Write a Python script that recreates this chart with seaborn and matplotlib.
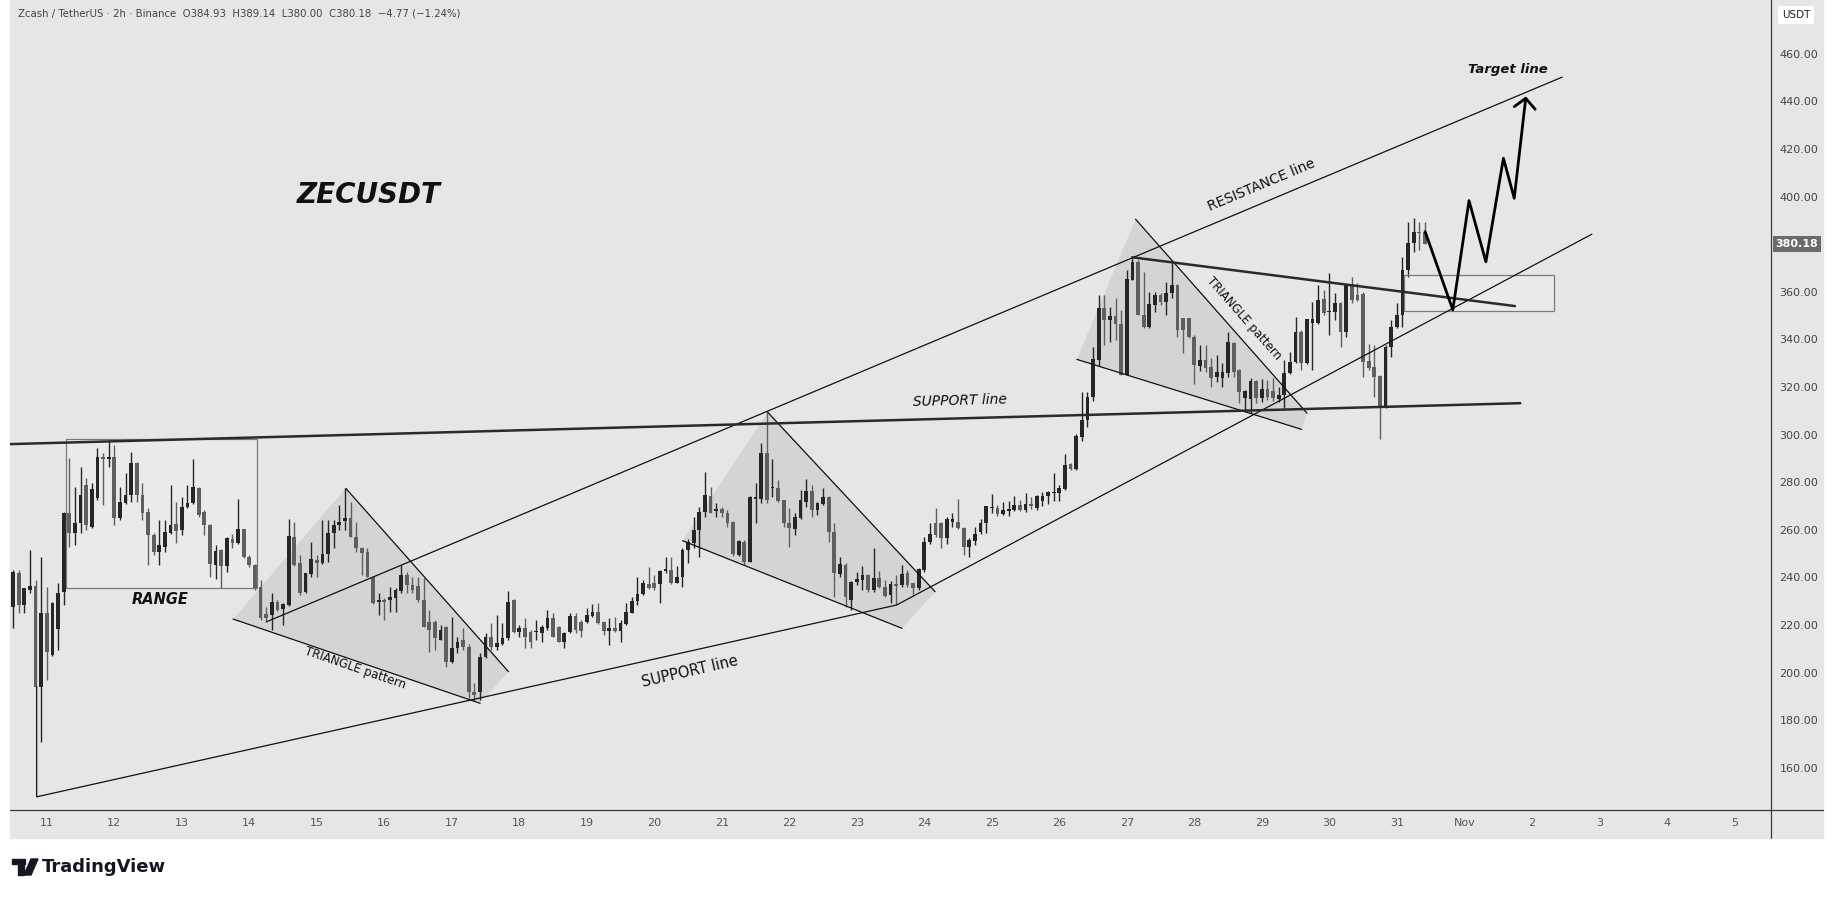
import numpy as np
import pandas as pd
import matplotlib
matplotlib.use("Agg")
import matplotlib.pyplot as plt
import matplotlib.dates as mdates
from matplotlib.patches import Polygon, Rectangle
from matplotlib.lines import Line2D
import seaborn as sns

sns.set_style("white")
plt.rcParams["font.family"] = "DejaVu Sans"

# ---- ZECUSDT 2h candles ----
OPEN = [227.7, 241.7, 228.4, 234.7, 236.4, 194.1, 225.2, 207.4, 218.2, 234.0,
        266.9, 258.5, 263.0, 278.8, 261.3, 273.2, 290.7, 289.6, 290.4, 264.8,
        271.4, 274.6, 287.9, 274.6, 267.6, 257.8, 250.8, 252.9, 258.8, 262.4,
        259.9, 269.4, 271.1, 277.4, 267.6, 262.0, 245.2, 251.5, 244.9, 256.0,
        254.3, 260.2, 248.7, 245.2, 236.1, 224.6, 224.2, 229.8, 226.6, 228.4,
        257.1, 245.9, 234.0, 241.3, 247.3, 245.9, 249.8, 258.5, 262.0, 263.8,
        264.8, 257.1, 252.2, 250.8, 240.3, 229.8, 230.5, 230.5, 231.2, 234.4,
        241.0, 236.8, 236.5, 230.5, 221.4, 221.4, 213.7, 219.3, 204.6, 210.2,
        213.7, 210.9, 192.0, 192.0, 206.7, 215.1, 210.9, 212.0, 214.4, 230.5,
        217.2, 218.6, 217.2, 216.9, 216.8, 218.6, 222.8, 219.3, 213.0, 216.9,
        223.8, 221.4, 221.1, 223.8, 225.3, 221.4, 217.6, 218.6, 217.6, 220.4,
        225.2, 230.1, 233.0, 237.1, 237.5, 237.2, 242.8, 243.1, 237.8, 240.0,
        251.5, 254.3, 259.9, 267.6, 274.2, 268.0, 268.6, 267.2, 263.4, 249.4,
        255.0, 246.6, 272.8, 272.8, 292.1, 277.4, 277.4, 272.5, 262.7, 260.2,
        264.8, 271.8, 276.4, 268.3, 270.8, 273.6, 259.2, 241.4, 245.2, 230.5,
        238.2, 238.9, 241.0, 234.7, 239.6, 236.1, 232.6, 237.2, 236.8, 241.7,
        237.5, 235.4, 243.1, 255.0, 262.7, 262.7, 256.4, 263.4, 263.4, 260.6,
        252.9, 255.4, 258.9, 263.0, 269.1, 269.1, 266.6, 268.1, 268.4, 270.5,
        268.4, 270.8, 269.1, 271.9, 274.0, 275.4, 275.4, 277.1, 287.7, 285.4,
        298.9, 306.2, 315.7, 331.4, 353.1, 348.2, 349.8, 346.5, 325.1, 365.0,
        372.7, 350.3, 345.1, 354.5, 358.7, 355.9, 359.4, 362.9, 348.9, 348.9,
        341.2, 328.9, 331.4, 328.6, 324.4, 323.7, 325.8, 338.4, 327.2, 315.3,
        314.8, 322.6, 315.3, 319.1, 318.5, 314.8, 316.7, 325.8, 330.3, 343.3,
        330.0, 346.8, 346.8, 356.9, 351.4, 351.7, 355.5, 343.3, 362.5, 358.7,
        359.1, 331.1, 328.6, 324.7, 311.5, 337.0, 345.4, 350.3, 369.2, 380.7,
        385.3, 384.93]
HIGH = [243.1, 243.1, 235.4, 251.5, 238.9, 248.7, 236.1, 229.8, 237.8, 267.3,
        290.0, 278.1, 286.5, 281.6, 279.5, 294.2, 292.1, 297.7, 295.6, 278.1,
        283.7, 292.8, 288.3, 279.5, 269.0, 258.5, 264.1, 264.1, 278.8, 271.8,
        273.9, 278.8, 289.6, 278.1, 268.3, 262.5, 253.6, 251.8, 256.8, 258.2,
        272.8, 260.5, 249.4, 245.5, 238.9, 227.7, 233.3, 230.5, 229.4, 264.4,
        263.4, 249.4, 242.0, 255.0, 249.4, 264.1, 264.1, 264.1, 270.4, 277.4,
        271.8, 263.4, 252.9, 252.2, 240.6, 233.3, 231.2, 236.1, 235.4, 245.2,
        242.4, 240.3, 240.3, 239.6, 226.3, 222.1, 220.0, 219.5, 223.5, 215.1,
        218.6, 212.0, 195.5, 208.1, 216.5, 220.7, 224.2, 220.7, 234.4, 230.8,
        220.0, 222.8, 217.9, 222.1, 220.0, 226.3, 225.2, 219.5, 217.2, 225.0,
        225.0, 222.1, 227.0, 228.8, 229.4, 221.6, 222.8, 223.5, 222.1, 229.1,
        231.9, 240.3, 238.9, 244.5, 241.0, 243.0, 248.7, 248.7, 244.8, 252.2,
        256.0, 265.5, 269.7, 284.4, 278.1, 271.1, 269.7, 268.3, 263.6, 255.7,
        255.7, 274.0, 279.5, 296.3, 309.4, 289.6, 280.9, 272.7, 269.0, 266.9,
        276.7, 281.2, 278.8, 271.8, 277.4, 274.2, 262.7, 248.4, 245.9, 238.4,
        242.4, 244.8, 241.4, 252.2, 242.8, 238.9, 238.6, 241.0, 245.2, 243.1,
        237.7, 243.8, 257.1, 262.7, 269.0, 263.4, 265.5, 266.9, 272.8, 261.3,
        256.4, 261.0, 264.4, 270.0, 275.1, 270.5, 271.5, 271.9, 274.4, 272.6,
        275.4, 273.6, 274.7, 275.7, 276.1, 284.0, 278.9, 291.7, 288.0, 300.3,
        318.1, 318.1, 337.0, 358.7, 358.7, 353.8, 357.3, 352.4, 369.2, 374.5,
        373.4, 368.5, 360.1, 360.1, 359.4, 364.3, 373.4, 363.1, 349.1, 349.1,
        341.9, 337.7, 337.7, 332.1, 333.5, 330.0, 343.3, 339.1, 327.4, 318.7,
        323.7, 322.8, 323.3, 323.0, 323.7, 320.2, 331.4, 334.9, 349.6, 344.0,
        348.7, 355.9, 362.9, 360.8, 368.1, 359.6, 355.7, 363.1, 366.4, 363.6,
        360.1, 338.1, 337.7, 324.9, 337.7, 348.2, 355.2, 374.8, 389.5, 390.9,
        389.5, 389.14]
LOW = [218.6, 224.9, 224.9, 233.3, 193.8, 171.0, 196.9, 206.9, 209.5, 228.4,
       252.9, 253.6, 258.5, 259.9, 260.6, 272.5, 270.4, 286.5, 262.0, 264.3,
       271.0, 271.8, 271.8, 264.1, 245.2, 249.5, 245.2, 250.8, 258.3, 254.3,
       257.8, 269.0, 270.8, 265.5, 257.8, 240.3, 239.2, 235.4, 242.4, 252.2,
       254.0, 248.3, 244.5, 234.7, 222.1, 221.4, 217.9, 226.0, 220.0, 228.0,
       244.8, 232.6, 233.5, 240.3, 240.3, 245.5, 246.6, 252.2, 259.9, 259.9,
       256.8, 250.8, 241.0, 240.0, 228.8, 224.2, 222.1, 225.6, 225.6, 233.3,
       233.3, 233.3, 229.8, 219.0, 208.8, 209.5, 213.5, 202.5, 204.0, 208.1,
       209.5, 189.2, 188.0, 188.5, 206.0, 209.5, 209.5, 211.8, 213.7, 216.5,
       215.1, 210.2, 210.2, 213.7, 213.0, 217.9, 215.0, 212.8, 210.2, 216.7,
       216.5, 215.1, 221.0, 223.5, 220.4, 215.8, 211.6, 217.2, 213.0, 220.0,
       224.9, 228.4, 232.6, 235.3, 234.7, 229.4, 242.0, 237.2, 237.5, 236.1,
       246.2, 252.2, 248.7, 265.5, 266.9, 265.2, 265.2, 261.3, 249.0, 249.0,
       245.2, 246.3, 263.0, 271.1, 271.1, 273.6, 271.8, 261.3, 252.9, 257.8,
       264.4, 269.7, 265.5, 266.2, 270.4, 255.0, 231.9, 240.3, 227.7, 226.3,
       236.8, 234.7, 234.0, 234.0, 235.4, 231.9, 229.4, 228.4, 236.1, 236.1,
       232.6, 234.7, 242.4, 254.0, 257.1, 252.2, 254.0, 261.0, 260.4, 249.4,
       248.7, 253.6, 258.3, 258.6, 267.2, 265.9, 266.3, 265.9, 267.7, 267.7,
       267.3, 268.6, 268.4, 269.8, 270.9, 271.9, 271.9, 276.8, 285.3, 285.2,
       297.5, 303.1, 314.3, 328.9, 337.7, 339.1, 339.8, 325.0, 324.9, 364.8,
       350.1, 344.7, 344.9, 351.7, 354.5, 350.3, 357.3, 341.2, 334.2, 340.5,
       321.3, 326.9, 326.5, 320.2, 322.3, 320.2, 324.4, 324.4, 313.2, 309.7,
       309.0, 313.2, 313.9, 314.6, 314.3, 313.9, 311.1, 325.6, 330.1, 327.2,
       329.7, 327.2, 346.6, 350.3, 341.9, 348.2, 337.0, 341.2, 355.5, 356.3,
       324.4, 327.2, 316.0, 298.1, 311.3, 332.8, 344.7, 345.4, 366.4, 376.9,
       377.6, 380.00]
CLOSE = [242.4, 228.4, 235.4, 236.4, 194.1, 225.2, 208.8, 229.4, 233.6, 266.9,
         258.5, 263.0, 274.6, 262.0, 277.0, 290.7, 289.6, 290.4, 264.8, 271.8,
         274.6, 287.9, 274.6, 267.2, 257.8, 250.8, 253.6, 259.2, 262.0, 259.5,
         269.4, 271.1, 278.1, 266.2, 262.0, 245.6, 251.2, 244.9, 256.4, 254.3,
         260.2, 248.7, 245.2, 235.4, 222.8, 222.8, 229.8, 226.3, 228.8, 257.4,
         245.2, 233.3, 241.7, 247.6, 246.2, 249.8, 258.5, 262.0, 263.4, 264.8,
         257.1, 252.2, 250.4, 240.3, 229.1, 230.5, 229.8, 231.9, 234.7, 241.0,
         236.8, 234.7, 230.5, 219.3, 217.9, 214.4, 217.9, 204.6, 210.2, 213.0,
         210.9, 192.0, 190.6, 206.7, 215.1, 210.9, 212.3, 214.4, 229.8, 217.2,
         218.6, 215.1, 213.0, 217.5, 219.0, 222.8, 215.1, 213.0, 216.5, 223.8,
         217.9, 217.6, 224.2, 225.3, 220.7, 217.6, 218.6, 217.6, 220.7, 225.3,
         230.2, 233.0, 237.5, 235.4, 235.4, 242.8, 243.5, 237.5, 240.3, 251.5,
         255.0, 259.9, 267.6, 274.6, 267.2, 268.6, 267.2, 262.7, 249.8, 255.4,
         246.6, 273.9, 273.6, 292.1, 272.5, 278.1, 272.2, 262.7, 260.6, 265.5,
         272.5, 276.4, 268.3, 271.1, 273.6, 259.2, 241.7, 245.6, 231.9, 238.2,
         239.2, 241.0, 234.7, 239.6, 236.1, 232.2, 237.1, 236.5, 241.4, 236.8,
         235.4, 243.4, 255.0, 258.1, 257.8, 256.4, 264.4, 264.4, 260.6, 252.9,
         255.7, 258.2, 263.0, 269.8, 269.5, 266.7, 268.4, 268.6, 270.5, 268.4,
         270.8, 269.8, 274.0, 274.3, 275.7, 275.8, 277.5, 287.3, 285.4, 299.2,
         306.2, 315.7, 331.6, 353.1, 348.2, 349.8, 346.5, 325.1, 365.3, 372.7,
         350.3, 345.4, 354.9, 358.7, 355.9, 359.7, 362.9, 344.0, 344.0, 341.2,
         329.3, 331.4, 327.9, 323.7, 326.1, 326.5, 339.1, 326.5, 318.1, 318.5,
         322.6, 315.3, 319.1, 316.0, 315.3, 316.7, 325.8, 330.7, 343.0, 330.0,
         348.5, 348.5, 356.6, 351.0, 352.0, 355.2, 343.3, 362.9, 356.6, 356.6,
         330.7, 327.9, 324.4, 311.5, 337.0, 345.4, 350.3, 369.2, 380.7, 385.3,
         384.6, 380.18]
TIMES = pd.date_range("2025-10-10 12:00", periods=len(OPEN), freq="2h")

LAST_PRICE = 380.18
PRICE_TICKS = [160, 180, 200, 220, 240, 260, 280, 300, 320, 340, 360, 380, 400, 420, 440, 460]
DAY_TICKS = list(range(11, 37))                    # day of October (32 = Nov 1)
DAY_LABELS = [str(d) for d in range(11, 32)] + ["Nov", "2", "3", "4", "5"]
HEADER = ("Zcash / TetherUS \u00b7 2h \u00b7 Binance  O384.93  H389.14  L380.00  "
          "C380.18  \u22124.77 (\u22121.24%)")

# ---- drawings: anchors as (day of October, price) ----
SUPPORT_DAYS = [10.85, 10.85, 23.59, 33.89]
SUPPORT_PRICES = [194.1, 147.8, 228.4, 384.2]
FLAT_SUPPORT_DAYS = [10.45, 32.83]
FLAT_SUPPORT_PRICES = [296.0, 313.2]
RESIST_DAYS = [14.26, 33.45]
RESIST_PRICES = [221.4, 450.2]
DOWN_DAYS = [27.08, 32.75]
DOWN_PRICES = [374.5, 354.0]
TRI1_DAYS = [13.76, 15.43, 17.84, 17.42]
TRI1_PRICES = [222.5, 277.4, 200.4, 187.1]
TRI2_DAYS = [20.42, 21.68, 24.16, 23.67]
TRI2_PRICES = [255.4, 309.4, 234.0, 218.6]
TRI3_DAYS = [26.26, 27.13, 29.67, 29.59]
TRI3_PRICES = [331.6, 390.5, 309.0, 302.2]
RANGE_BOX = [11.28, 14.11, 235.4, 298.0]
ZONE_BOX = [31.10, 33.33, 351.9, 367.1]
PATH_DAYS = [31.42, 31.83, 32.07, 32.32, 32.58, 32.74, 32.91]
PATH_PRICES = [385.3, 352.4, 398.3, 372.6, 416.1, 399.3, 441.3]
ARROW_DAYS = [32.74, 32.91, 33.05]
ARROW_PRICES = [437.8, 441.3, 436.7]

W, H = 1835, 898
BG = "#e6e6e6"
BULL, BEAR = "#262626", "#5f5f5f"


def oct_day(d):
    base = mdates.date2num(np.datetime64("2025-10-01"))
    return base + np.asarray(d, dtype=float) - 1


fig = plt.figure(figsize=(W / 100, H / 100), dpi=100)
fig.patch.set_facecolor("white")
fig.patches.append(Rectangle((10 / W, 1 - 838 / H), 1813 / W, 838 / H,
                             transform=fig.transFigure, color=BG, zorder=-10))
ax = fig.add_axes([10 / W, 1 - 810 / H, 1761 / W, 810 / H])
ax.set_facecolor(BG)
for s in ax.spines.values():
    s.set_visible(False)

# candles
x = mdates.date2num(TIMES)
o, h, l, c = map(np.array, (OPEN, HIGH, LOW, CLOSE))
cols = np.where(c >= o, BULL, BEAR)
ax.vlines(x, l, h, colors=cols, lw=1.0, zorder=3)
ax.bar(x, np.maximum(np.abs(c - o), 0.6), bottom=np.minimum(o, c), width=0.056,
       color=cols, zorder=3, linewidth=0)

# shaded triangle patterns
for days, prices in [(TRI1_DAYS, TRI1_PRICES), (TRI2_DAYS, TRI2_PRICES), (TRI3_DAYS, TRI3_PRICES)]:
    xs = oct_day(days)
    ax.add_patch(Polygon(np.column_stack([xs, prices]), closed=True,
                         fc="black", alpha=0.075, ec="none", zorder=2))
    ax.plot([xs[0], xs[3]], [prices[0], prices[3]], color="#111", lw=0.9, zorder=4)
    ax.plot([xs[1], xs[2]], [prices[1], prices[2]], color="#111", lw=0.9, zorder=4)

# boxes
for d0, d1, p0, p1 in [RANGE_BOX, ZONE_BOX]:
    x0, x1 = oct_day([d0, d1])
    ax.add_patch(Rectangle((x0, p0), x1 - x0, p1 - p0, fc="white", alpha=0.18,
                           ec="none", zorder=1))
    ax.add_patch(Rectangle((x0, p0), x1 - x0, p1 - p0, fc="none", ec="#7a7a7a",
                           lw=0.9, zorder=4))

# trend lines
ax.plot(oct_day(SUPPORT_DAYS), SUPPORT_PRICES, color="#111", lw=0.9, zorder=4)
ax.plot(oct_day(RESIST_DAYS), RESIST_PRICES, color="#111", lw=0.9, zorder=4)
ax.plot(oct_day(FLAT_SUPPORT_DAYS), FLAT_SUPPORT_PRICES, color="#2a2a2a", lw=1.8, zorder=4)
ax.plot(oct_day(DOWN_DAYS), DOWN_PRICES, color="#2a2a2a", lw=1.8, zorder=4)

# projected path
sns.lineplot(x=oct_day(PATH_DAYS), y=PATH_PRICES, sort=False, estimator=None,
             color="black", lw=2.0, ax=ax, zorder=5)
ax.plot(oct_day(ARROW_DAYS), ARROW_PRICES, color="black", lw=2.0, zorder=5)

# labels
txt = dict(color="#111", ha="center", va="center", rotation_mode="anchor", zorder=6)
ax.text(oct_day(15.77), 400.7, "ZECUSDT", fontsize=20, fontweight="bold", style="italic", **txt)
ax.text(oct_day(12.68), 230.9, "RANGE", fontsize=10.5, fontweight="bold", style="italic", **txt)
ax.text(oct_day(15.57), 201.8, "TRIANGLE pattern", fontsize=8.5, rotation=-19, **txt)
ax.text(oct_day(20.53), 200.4, "SUPPORT line", fontsize=10.5, rotation=13, **txt)
ax.text(oct_day(24.53), 314.2, "SUPPORT line", fontsize=10, style="italic", rotation=1.5, **txt)
ax.text(oct_day(29.00), 404.9, "RESISTANCE line", fontsize=10, rotation=22.8, **txt)
ax.text(oct_day(28.73), 348.9, "TRIANGLE pattern", fontsize=8.5, rotation=-48.5, **txt)
ax.text(oct_day(32.65), 453.2, "Target line", fontsize=9.5, fontweight="bold", style="italic", **txt)

# axes
ax.set_xlim(oct_day(10.455), oct_day(36.544))
ax.set_ylim(142.27, 482.6)
ax.set_xticks(oct_day(DAY_TICKS))
ax.set_xticklabels(DAY_LABELS)
ax.yaxis.tick_right()
ax.set_yticks(PRICE_TICKS)
ax.set_yticklabels([f"{v:.2f}" for v in PRICE_TICKS])
ax.tick_params(axis="x", length=0, pad=6, labelsize=8, labelcolor="#555")
ax.tick_params(axis="y", length=0, pad=6, labelsize=8, labelcolor="#444")

ax.text(1.0148, LAST_PRICE, f"{LAST_PRICE:.2f}", transform=ax.get_yaxis_transform(),
        ha="center", va="center", fontsize=8, fontweight="bold", color="white",
        bbox=dict(boxstyle="square,pad=0.25", fc="#6a6a6a", ec="none"), clip_on=False)

# panel separators
fig.add_artist(Line2D([1771 / W, 1771 / W], [1 - 838 / H, 1], color="#3a3a3a", lw=0.9))
fig.add_artist(Line2D([10 / W, 1823 / W], [1 - 810 / H, 1 - 810 / H], color="#3a3a3a", lw=0.9))

fig.text(1796 / W, 1 - 15 / H, "USDT", ha="center", va="center", fontsize=7.5, color="#222",
         bbox=dict(boxstyle="square,pad=0.35", fc="white", ec="none"))
fig.text(18 / W, 1 - 13 / H, HEADER, ha="left", va="center", fontsize=7.3, color="#444")

# TradingView logo
fig.patches.append(Rectangle((12 / W, 1 - 864 / H), 13 / W, 5 / H, transform=fig.transFigure, color="#131722"))
fig.patches.append(Rectangle((18 / W, 1 - 875 / H), 6 / W, 11 / H, transform=fig.transFigure, color="#131722"))
fig.patches.append(Polygon([[31 / W, 1 - 859 / H], [38 / W, 1 - 859 / H], [31 / W, 1 - 875 / H],
                            [24 / W, 1 - 875 / H]], closed=True, transform=fig.transFigure, color="#131722"))
fig.text(42 / W, 1 - 867 / H, "TradingView", ha="left", va="center", fontsize=13,
         fontweight="bold", color="#131722")

fig.savefig("out.png", dpi=100)
